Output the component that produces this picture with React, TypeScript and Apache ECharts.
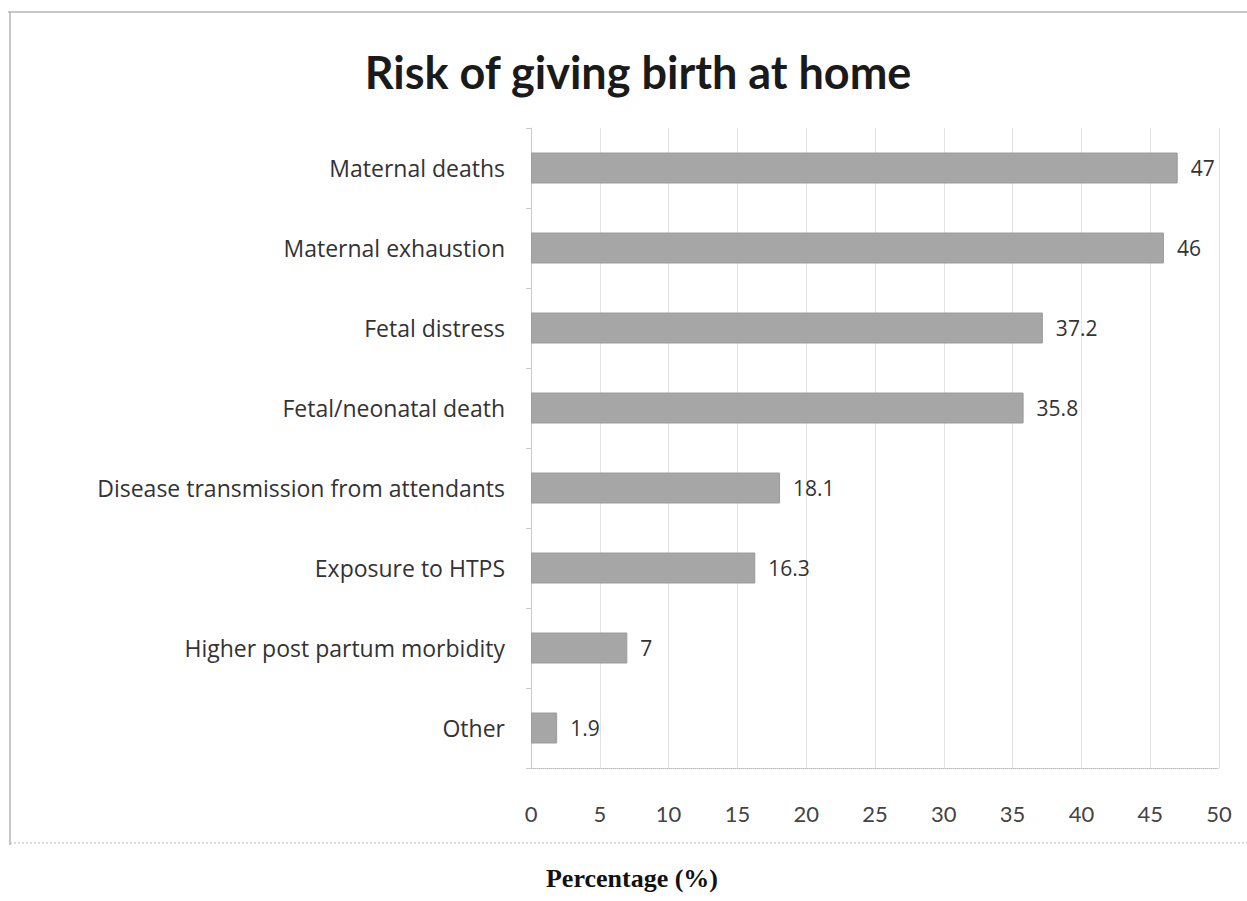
import React, { useEffect, useRef } from "react";
import * as echarts from "echarts";

const categories = [
  "Maternal deaths",
  "Maternal exhaustion",
  "Fetal distress",
  "Fetal/neonatal death",
  "Disease transmission from attendants",
  "Exposure to HTPS",
  "Higher post partum morbidity",
  "Other",
];
const values = [47, 46, 37.2, 35.8, 18.1, 16.3, 7, 1.9];
const xTicks = { min: 0, max: 50, interval: 5 };
const titleText = "Risk of giving birth at home";
const axisTitle = "Percentage (%)";

export default function App() {
  const ref = useRef<HTMLDivElement>(null);
  useEffect(() => {
    if (!ref.current) return;
    const chart = echarts.init(ref.current, undefined, { renderer: "svg" });
    chart.setOption({
      animation: false,
      backgroundColor: "#ffffff",
      title: {
        text: titleText,
        left: 633,
        textAlign: "center",
        top: 44,
        textStyle: { fontFamily: "Lato", fontWeight: "bold", fontSize: 45, color: "#1a1a1a" },
      },
      graphic: [
        { type: "line", shape: { x1: 8, y1: 12, x2: 1247, y2: 12 }, style: { stroke: "#b5b5b5", lineWidth: 1.5 } },
        { type: "line", shape: { x1: 10, y1: 12, x2: 10, y2: 845 }, style: { stroke: "#b5b5b5", lineWidth: 1.5 } },
        { type: "line", shape: { x1: 10, y1: 843, x2: 1247, y2: 843 }, style: { stroke: "#b5b5b5", lineWidth: 1, lineDash: [2, 2] } },
        {
          type: "text",
          x: 632,
          y: 878,
          style: {
            text: axisTitle,
            fontFamily: "Liberation Serif",
            fontWeight: "bold",
            fontSize: 26,
            fill: "#111",
            align: "center",
            verticalAlign: "middle",
          },
        },
      ],
      grid: { left: 531, right: 28, top: 128, bottom: 133, containLabel: false },
      xAxis: {
        type: "value",
        min: xTicks.min,
        max: xTicks.max,
        interval: xTicks.interval,
        axisLine: { show: true, lineStyle: { color: "#bbbbbb", type: "dotted" } },
        axisTick: { show: false },
        axisLabel: { margin: 34, fontFamily: "Lato", fontSize: 22, color: "#444" },
        splitLine: { show: true, lineStyle: { color: "#e3e3e3", width: 1 } },
      },
      yAxis: {
        type: "category",
        data: categories,
        inverse: true,
        axisLine: { show: true, lineStyle: { color: "#cccccc" } },
        axisTick: { show: true, length: 5, lineStyle: { color: "#cccccc" } },
        axisLabel: { margin: 26, fontFamily: "Open Sans", fontSize: 23, color: "#333" },
        splitLine: { show: false },
      },
      series: [
        {
          type: "bar",
          data: values,
          barWidth: 31,
          itemStyle: { color: "#a6a6a6", borderColor: "#9c9c9c", borderWidth: 1 },
          label: {
            show: true,
            position: "right",
            distance: 13,
            fontFamily: "Open Sans",
            fontSize: 21,
            color: "#333",
          },
        },
      ],
    });
    return () => chart.dispose();
  }, []);
  return (
    <div
      ref={ref}
      style={{ position: "fixed", left: 0, top: 0, width: 1247, height: 901 }}
    />
  );
}
